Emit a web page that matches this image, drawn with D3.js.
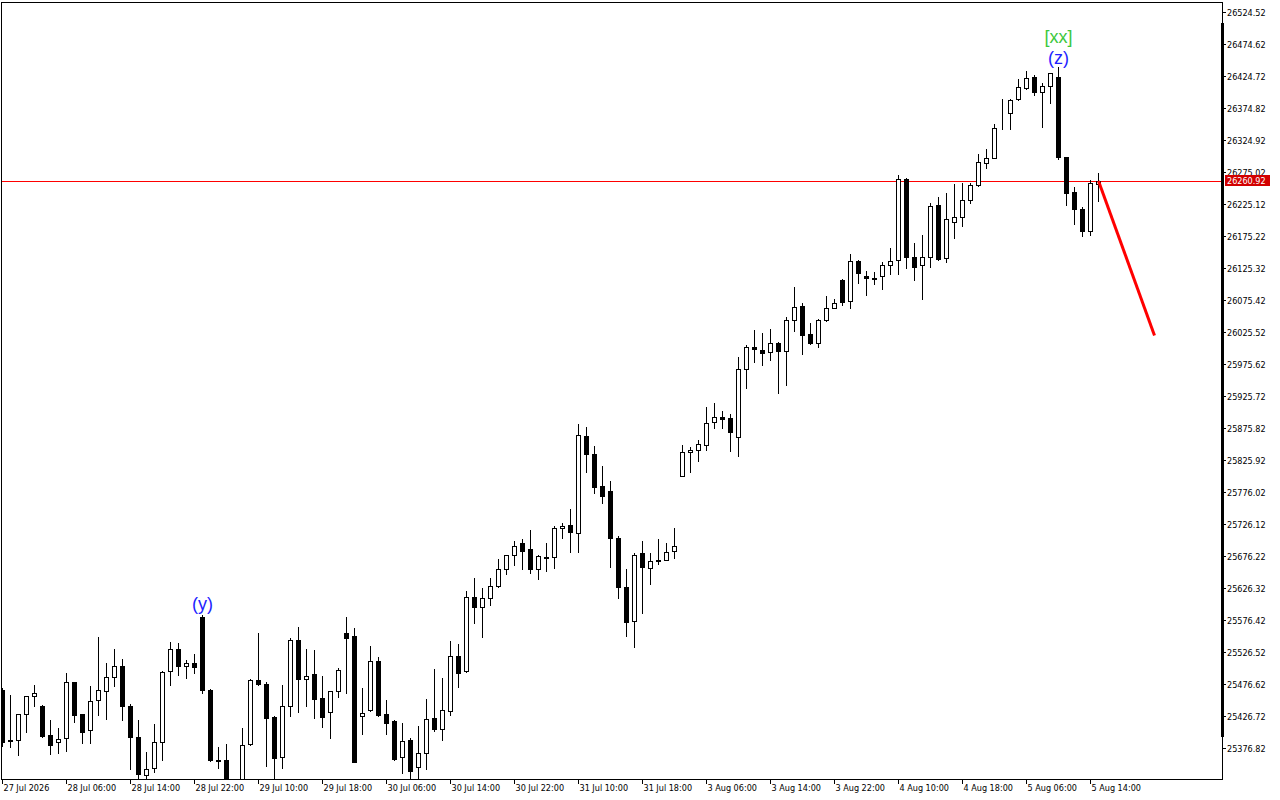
<!DOCTYPE html>
<html>
<head>
<meta charset="utf-8">
<script src="https://cdn.jsdelivr.net/npm/d3@7"></script>
<style>
  body { margin: 0; background: #fff; }
  svg { display: block; }
</style>
</head>
<body>
<div id="app"></div>
<script>
// hourly candles, one entry per bar (index 0 = 27 Jul 2026 open)
var opens = [
  25467, 25389, 25389, 25429, 25457, 25442, 25397, 25386, 25392, 25479,
  25429, 25404, 25451, 25465, 25487, 25504, 25442, 25394, 25334, 25345,
  25386, 25496, 25531, 25504, 25509, 25581, 25467, 25358, 25358, 25303,
  25305, 25383, 25482, 25476, 25424, 25362, 25442, 25545, 25484, 25492,
  25454, 25432, 25465, 25556, 25551, 25426, 25436, 25512, 25429, 25418,
  25362, 25389, 25347, 25369, 25423, 25406, 25434, 25520, 25496, 25612,
  25596, 25610, 25629, 25656, 25677, 25696, 25687, 25656, 25674, 25674,
  25720, 25724, 25712, 25863, 25835, 25785, 25777, 25704, 25628, 25574,
  25680, 25657, 25670, 25670, 25684, 25801, 25838, 25841, 25849, 25885,
  25893, 25891, 25862, 25968, 26002, 25997, 25994, 26008, 25996, 26044,
  26066, 26022, 26008, 26044, 26063, 26106, 26074, 26136, 26113, 26110,
  26113, 26130, 26138, 26264, 26142, 26130, 26142, 26223, 26141, 26197,
  26205, 26231, 26255, 26289, 26297, 26368, 26367, 26389, 26406, 26423,
  26400, 26409, 26423, 26298, 26244, 26217, 26183, 26256
]
var highs = [
  25470, 25459, 25430, 25458, 25475, 25443, 25420, 25408, 25493, 25480,
  25430, 25473, 25550, 25509, 25531, 25515, 25445, 25420, 25370, 25414,
  25496, 25542, 25540, 25514, 25523, 25584, 25468, 25378, 25383, 25320,
  25408, 25484, 25556, 25479, 25426, 25475, 25548, 25565, 25531, 25529,
  25489, 25466, 25501, 25581, 25564, 25470, 25535, 25518, 25451, 25420,
  25415, 25392, 25411, 25453, 25500, 25486, 25543, 25539, 25621, 25642,
  25626, 25642, 25671, 25678, 25699, 25702, 25716, 25677, 25696, 25723,
  25727, 25749, 25882, 25877, 25847, 25816, 25793, 25707, 25656, 25681,
  25699, 25680, 25702, 25696, 25720, 25849, 25846, 25857, 25908, 25915,
  25902, 25897, 25986, 26005, 26028, 26024, 26030, 26009, 26049, 26096,
  26071, 26039, 26046, 26081, 26077, 26108, 26147, 26137, 26120, 26119,
  26135, 26156, 26270, 26265, 26164, 26177, 26227, 26236, 26242, 26256,
  26258, 26258, 26303, 26311, 26350, 26389, 26389, 26420, 26432, 26426,
  26414, 26430, 26439, 26299, 26252, 26220, 26262, 26273
]
var lows = [
  25379, 25378, 25365, 25401, 25442, 25393, 25367, 25368, 25372, 25417,
  25384, 25384, 25428, 25422, 25473, 25420, 25344, 25326, 25320, 25339,
  25358, 25475, 25490, 25486, 25493, 25462, 25356, 25345, 25287, 25282,
  25295, 25381, 25475, 25348, 25329, 25345, 25426, 25432, 25442, 25423,
  25409, 25392, 25456, 25462, 25354, 25398, 25434, 25426, 25398, 25358,
  25337, 25323, 25323, 25344, 25403, 25389, 25428, 25472, 25495, 25571,
  25550, 25599, 25628, 25648, 25662, 25656, 25649, 25640, 25652, 25657,
  25704, 25682, 25682, 25807, 25774, 25758, 25659, 25610, 25551, 25534,
  25587, 25632, 25663, 25669, 25673, 25800, 25807, 25824, 25841, 25876,
  25876, 25840, 25832, 25938, 25979, 25974, 25982, 25930, 25943, 26027,
  25991, 26007, 26002, 26042, 26062, 26067, 26062, 26102, 26083, 26100,
  26092, 26116, 26116, 26125, 26106, 26077, 26127, 26137, 26135, 26172,
  26191, 26226, 26253, 26281, 26296, 26342, 26342, 26388, 26404, 26395,
  26345, 26382, 26295, 26223, 26194, 26175, 26177, 26230
]
var closes = [
  25386, 25388, 25429, 25457, 25462, 25395, 25381, 25390, 25479, 25428,
  25401, 25450, 25467, 25487, 25504, 25442, 25394, 25336, 25344, 25386,
  25495, 25531, 25504, 25509, 25503, 25467, 25357, 25356, 25303, 25300,
  25381, 25482, 25476, 25423, 25361, 25442, 25545, 25484, 25489, 25453,
  25425, 25465, 25498, 25548, 25355, 25431, 25512, 25428, 25415, 25359,
  25387, 25340, 25369, 25422, 25406, 25436, 25520, 25493, 25612, 25596,
  25610, 25629, 25656, 25677, 25691, 25684, 25656, 25676, 25673, 25720,
  25723, 25713, 25865, 25835, 25784, 25769, 25704, 25628, 25573, 25677,
  25659, 25668, 25668, 25682, 25691, 25838, 25841, 25851, 25883, 25893,
  25890, 25869, 25968, 26002, 25999, 25993, 26008, 25996, 26044, 26064,
  26021, 26008, 26044, 26063, 26071, 26072, 26136, 26117, 26110, 26108,
  26130, 26136, 26264, 26142, 26127, 26142, 26222, 26139, 26202, 26205,
  26231, 26255, 26291, 26297, 26344, 26369, 26387, 26408, 26422, 26400,
  26409, 26429, 26298, 26242, 26217, 26183, 26258, 26260.92
]

// time axis labels, one every 8 bars
var timeLabelBars = [0, 8, 16, 24, 32, 40, 48, 56, 64, 72, 80, 88, 96, 104, 112, 120, 128, 136]
var timeLabels = ["27 Jul 2026", "28 Jul 06:00", "28 Jul 14:00", "28 Jul 22:00", "29 Jul 10:00",
  "29 Jul 18:00", "30 Jul 06:00", "30 Jul 14:00", "30 Jul 22:00", "31 Jul 10:00", "31 Jul 18:00",
  "3 Aug 06:00", "3 Aug 14:00", "3 Aug 22:00", "4 Aug 10:00", "4 Aug 18:00", "5 Aug 06:00", "5 Aug 14:00"]

// price scale labels
var priceTicks = [26524.52, 26474.62, 26424.72, 26374.82, 26324.92, 26275.02, 26225.12, 26175.22,
  26125.32, 26075.42, 26025.52, 25975.62, 25925.72, 25875.82, 25825.92, 25776.02, 25726.12,
  25676.22, 25626.32, 25576.42, 25526.52, 25476.62, 25426.72, 25376.82]

var bidPrice = 26260.92

// wave marks: text, bar it sits on, colour
var waveTexts = ["(y)", "(z)", "[xx]"]
var waveBars = [25, 132, 132]
var waveColors = ["#1e1eff", "#1e1eff", "#3cc83c"]

// projected move (red line)
var forecastBars = [137, 144]
var forecastPrices = [26260.92, 26020]

var candles = opens.map(function (o, i) {
  return { i: i, o: o, h: highs[i], l: lows[i], c: closes[i] }
})

var W = 1280, H = 800
var plot = { left: 1.5, top: 2.5, right: 1222.5, bottom: 779.5 }

var x = d3.scaleLinear().domain([0, 137]).range([2.5, 1098.5])
var y = d3.scaleLinear().domain([26524.52, 25376.82]).range([12, 747.7])

function py(p) { return Math.round(y(p)) + 0.5 }

var svg = d3.select("#app")
  .append("svg")
  .attr("width", W)
  .attr("height", H)
  .style("font-family", "'DejaVu Sans Condensed', 'Liberation Sans', sans-serif")

svg.append("rect").attr("width", W).attr("height", H).attr("fill", "#fff")

svg.append("clipPath")
  .attr("id", "plotClip")
  .append("rect")
  .attr("x", plot.left + 0.5)
  .attr("y", plot.top + 0.5)
  .attr("width", plot.right - plot.left - 1)
  .attr("height", plot.bottom - plot.top - 1)

var chart = svg.append("g")
  .attr("clip-path", "url(#plotClip)")
  .attr("shape-rendering", "crispEdges")

// bid line (a 1px filled strip, sits behind the candles)
chart.append("rect")
  .attr("x", plot.left)
  .attr("y", Math.round(y(bidPrice)))
  .attr("width", plot.right - plot.left)
  .attr("height", 1)
  .attr("fill", "#ff0000")

var g = chart.selectAll(".candle")
  .data(candles)
  .enter()
  .append("g")
  .attr("class", "candle")

// wicks first so white bodies cover them
g.append("line")
  .attr("x1", function (d) { return x(d.i) })
  .attr("x2", function (d) { return x(d.i) })
  .attr("y1", function (d) { return Math.round(y(d.h)) })
  .attr("y2", function (d) { return Math.round(y(d.l)) + 1 })
  .attr("stroke", "#000")

g.append("rect")
  .attr("x", function (d) { return x(d.i) - 2 })
  .attr("width", 4)
  .attr("y", function (d) { return py(Math.max(d.o, d.c)) })
  .attr("height", function (d) { return py(Math.min(d.o, d.c)) - py(Math.max(d.o, d.c)) })
  .attr("fill", function (d) { return d.c >= d.o ? "#fff" : "#000" })
  .attr("stroke", "#000")

// forecast line
chart.append("line")
  .attr("x1", x(forecastBars[0])).attr("y1", y(forecastPrices[0]))
  .attr("x2", x(forecastBars[1])).attr("y2", y(forecastPrices[1]))
  .attr("stroke", "#ff0000")
  .attr("stroke-width", 3)
  .attr("shape-rendering", "auto")

// wave labels above the bar highs
var waveOffsets = [-11, -9, -30]
svg.selectAll(".wave")
  .data(waveTexts)
  .enter()
  .append("text")
  .attr("class", "wave")
  .attr("x", function (d, i) { return x(waveBars[i]) })
  .attr("y", function (d, i) { return y(highs[waveBars[i]]) + waveOffsets[i] })
  .attr("text-anchor", "middle")
  .attr("dominant-baseline", "central")
  .style("font-family", "'Liberation Sans', Arial, sans-serif")
  .style("font-size", "18px")
  .attr("fill", function (d, i) { return waveColors[i] })
  .text(function (d) { return d })

// frame
var frame = svg.append("g").attr("shape-rendering", "crispEdges")
frame.append("rect")
  .attr("x", plot.left).attr("y", plot.top)
  .attr("width", plot.right - plot.left)
  .attr("height", plot.bottom - plot.top)
  .attr("fill", "none")
  .attr("stroke", "#000")
frame.append("rect")
  .attr("x", 1221).attr("y", 23)
  .attr("width", 3).attr("height", 714)
  .attr("fill", "#000")

// price axis
var yAxis = svg.append("g").attr("shape-rendering", "crispEdges")
yAxis.selectAll("line")
  .data(priceTicks)
  .enter()
  .append("line")
  .attr("x1", 1222).attr("x2", 1226)
  .attr("y1", py).attr("y2", py)
  .attr("stroke", "#000")
yAxis.selectAll("text")
  .data(priceTicks)
  .enter()
  .append("text")
  .attr("x", 1227)
  .attr("y", py)
  .attr("dominant-baseline", "central")
  .style("font-size", "9px")
  .attr("fill", "#000")
  .text(function (d) { return d.toFixed(2) })

// current price box
yAxis.append("rect")
  .attr("x", 1225).attr("y", Math.round(y(bidPrice)) - 6)
  .attr("width", 45).attr("height", 11)
  .attr("fill", "#d20000")
yAxis.append("text")
  .attr("x", 1227)
  .attr("y", y(bidPrice))
  .attr("dominant-baseline", "central")
  .style("font-size", "9px")
  .attr("fill", "#fff")
  .text(bidPrice.toFixed(2))

// time axis
var xAxis = svg.append("g").attr("shape-rendering", "crispEdges")
xAxis.selectAll("line")
  .data(timeLabelBars)
  .enter()
  .append("line")
  .attr("x1", function (d) { return x(d) }).attr("x2", function (d) { return x(d) })
  .attr("y1", plot.bottom).attr("y2", plot.bottom + 4)
  .attr("stroke", "#000")
xAxis.selectAll("text")
  .data(timeLabels)
  .enter()
  .append("text")
  .attr("x", function (d, i) { return x(timeLabelBars[i]) + 1 })
  .attr("y", 788)
  .attr("dominant-baseline", "central")
  .style("font-size", "9px")
  .attr("fill", "#000")
  .text(function (d) { return d })
</script>
</body>
</html>
